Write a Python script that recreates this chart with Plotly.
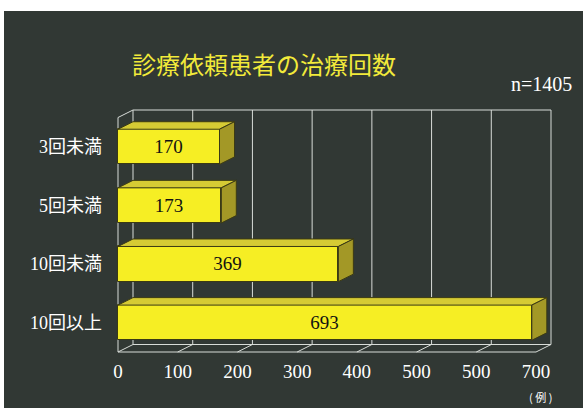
import plotly.graph_objects as go

# ---- data ----
categories = ["3回未満", "5回未満", "10回未満", "10回以上"]
counts = [170, 173, 369, 693]
tick_vals = [0, 100, 200, 300, 400, 500, 600, 700]
tick_text = ["0", "100", "200", "300", "400", "500", "500", "700"]
title_text = "診療依頼患者の治療回数"
n_text = "n=1405"
unit_text = "( 例 )"

# ---- geometry / style ----
W, H = 583, 408
L, R, T, B = 116, 28, 106, 53
PX_PER_X = 418 / 700.0
PX_PER_Y = 58.6
x_range = [(L - 118) / PX_PER_X, (W - R - 118) / PX_PER_X]
y_range = [3.5 + (H - B - 352) / PX_PER_Y, -0.5 - (117.5 - T) / PX_PER_Y]
DX = 15 / PX_PER_X     # depth offset in x data units
DY = 7.5 / PX_PER_Y    # depth offset in y data units
BAR_HALF = 0.30

BG = "#313834"
FRONT = "#f6ee24"
TOP = "#d6cb34"
SIDE = "#a39826"
EDGE = "#3b3a14"
GRID = "#d8dcd8"

ypos = list(range(len(categories)))

fig = go.Figure()
fig.add_trace(go.Bar(
    x=counts, y=ypos, orientation="h", width=2 * BAR_HALF,
    marker=dict(color=FRONT, line=dict(color=EDGE, width=1)),
    text=[str(v) for v in counts], textposition="inside",
    insidetextanchor="middle", constraintext="none",
    textfont=dict(family="Liberation Serif", size=19, color="#111111"),
    hoverinfo="skip", showlegend=False,
))

shapes = []
# frame: back wall gridlines, floor diagonals, left wall
y_top_f, y_bot_f = -0.5, 3.5
y_top_b, y_bot_b = y_top_f - DY, y_bot_f - DY
line = dict(color=GRID, width=1)
for v in tick_vals:
    shapes.append(dict(type="line", xref="x", yref="y", x0=v + DX, x1=v + DX,
                       y0=y_top_b, y1=y_bot_b, line=line, layer="below"))
    shapes.append(dict(type="line", xref="x", yref="y", x0=v, x1=v + DX,
                       y0=y_bot_f, y1=y_bot_b, line=line, layer="below"))
xmax = tick_vals[-1]
shapes += [
    dict(type="line", xref="x", yref="y", x0=DX, x1=xmax + DX, y0=y_top_b, y1=y_top_b, line=line, layer="below"),
    dict(type="line", xref="x", yref="y", x0=DX, x1=xmax + DX, y0=y_bot_b, y1=y_bot_b, line=line, layer="below"),
    dict(type="line", xref="x", yref="y", x0=0, x1=xmax, y0=y_bot_f, y1=y_bot_f, line=line, layer="below"),
    dict(type="line", xref="x", yref="y", x0=0, x1=0, y0=y_top_f, y1=y_bot_f, line=line, layer="below"),
    dict(type="line", xref="x", yref="y", x0=0, x1=DX, y0=y_top_f, y1=y_top_b, line=line, layer="below"),
]

# bar top and side faces
for yi, v in zip(ypos, counts):
    yt, yb = yi - BAR_HALF, yi + BAR_HALF
    top_path = f"M 0,{yt} L {DX},{yt - DY} L {v + DX},{yt - DY} L {v},{yt} Z"
    side_path = f"M {v},{yt} L {v + DX},{yt - DY} L {v + DX},{yb - DY} L {v},{yb} Z"
    shapes.append(dict(type="path", xref="x", yref="y", path=top_path,
                       fillcolor=TOP, line=dict(color=EDGE, width=1)))
    shapes.append(dict(type="path", xref="x", yref="y", path=side_path,
                       fillcolor=SIDE, line=dict(color=EDGE, width=1)))

# white page margins outside the dark slide
pw, ph = W - L - R, H - T - B
def xp(px): return (px - L) / pw
def yp(py): return (H - B - py) / ph
shapes.append(dict(type="rect", xref="paper", yref="paper", x0=xp(0), x1=xp(W),
                   y0=yp(11), y1=yp(0), fillcolor="white", line=dict(width=0), layer="below"))
shapes.append(dict(type="rect", xref="paper", yref="paper", x0=xp(0), x1=xp(4),
                   y0=yp(H), y1=yp(0), fillcolor="white", line=dict(width=0), layer="below"))

annotations = [
    dict(text=title_text, xref="paper", yref="paper", x=xp(264), y=yp(63),
         showarrow=False, xanchor="center", yanchor="middle",
         font=dict(family="Noto Sans CJK JP", size=24, color="#f2ea3a")),
    dict(text=n_text, xref="paper", yref="paper", x=xp(574), y=yp(84),
         showarrow=False, xanchor="right", yanchor="middle",
         font=dict(family="Liberation Serif", size=20, color="white")),
    dict(text=unit_text, xref="paper", yref="paper", x=xp(540), y=yp(397),
         showarrow=False, xanchor="center", yanchor="middle",
         font=dict(family="Noto Sans CJK JP", size=11, color="white")),
]

fig.update_layout(
    width=W, height=H,
    margin=dict(l=L, r=R, t=T, b=B, pad=0),
    paper_bgcolor=BG, plot_bgcolor="rgba(0,0,0,0)",
    shapes=shapes, annotations=annotations, bargap=0,
    xaxis=dict(range=x_range, tickvals=tick_vals, ticktext=tick_text,
               showgrid=False, zeroline=False, showline=False, ticks="",
               tickfont=dict(family="Liberation Serif", size=19, color="white"),
               ticklabelstandoff=3, fixedrange=True),
    yaxis=dict(range=y_range, tickvals=ypos, ticktext=categories,
               showgrid=False, zeroline=False, showline=False, ticks="",
               tickfont=dict(family="Liberation Serif, Noto Sans CJK JP", size=18, color="white"),
               ticklabelstandoff=13, fixedrange=True),
)

fig.write_html(
    "out.html",
    config={"displayModeBar": False},
    post_script="document.body.style.margin='0';document.body.style.overflow='hidden';",
)
